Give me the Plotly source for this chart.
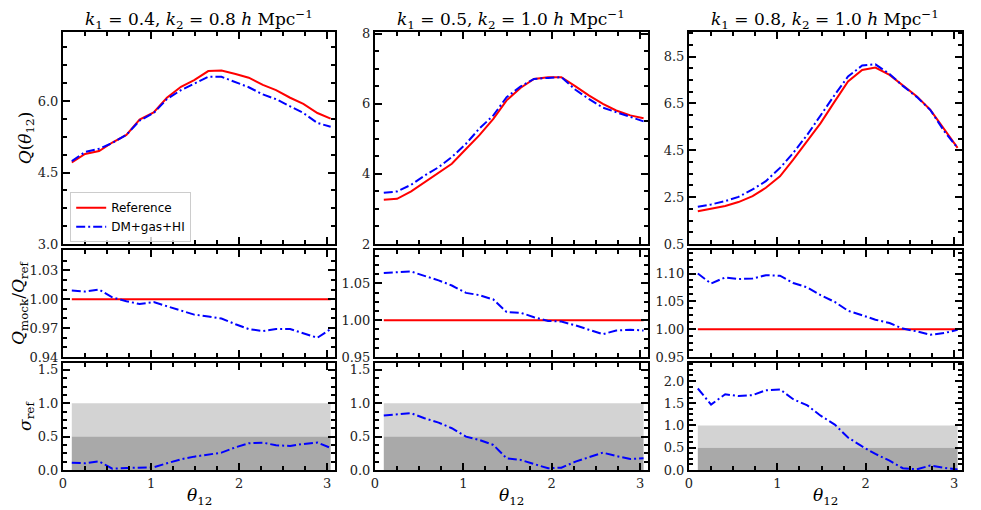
import plotly.graph_objects as go
from plotly.subplots import make_subplots

# angle between the two k vectors
theta = [0.10, 0.25, 0.41, 0.56, 0.72, 0.87, 1.03, 1.18, 1.34, 1.49,
         1.65, 1.80, 1.96, 2.11, 2.27, 2.42, 2.58, 2.73, 2.89, 3.04]

panel_titles = [
    "<i>k</i><sub>1</sub> = 0.4, <i>k</i><sub>2</sub> = 0.8 <i>h</i> Mpc<sup>−1</sup>",
    "<i>k</i><sub>1</sub> = 0.5, <i>k</i><sub>2</sub> = 1.0 <i>h</i> Mpc<sup>−1</sup>",
    "<i>k</i><sub>1</sub> = 0.8, <i>k</i><sub>2</sub> = 1.0 <i>h</i> Mpc<sup>−1</sup>",
]

# Q(theta) reference
q_ref_a = [4.71, 4.89, 4.95, 5.13, 5.29, 5.61, 5.76, 6.07, 6.30, 6.44,
           6.63, 6.64, 6.57, 6.49, 6.34, 6.23, 6.07, 5.94, 5.75, 5.63]
q_ref_b = [3.26, 3.29, 3.50, 3.76, 4.02, 4.29, 4.71, 5.10, 5.57, 6.10,
           6.46, 6.71, 6.76, 6.76, 6.50, 6.24, 6.00, 5.81, 5.67, 5.59]
q_ref_c = [1.90, 2.02, 2.12, 2.29, 2.54, 2.90, 3.39, 4.10, 4.88, 5.66,
           6.59, 7.44, 7.93, 8.03, 7.72, 7.29, 6.80, 6.23, 5.38, 4.60]

# Q(theta) mock DM+gas+HI
q_mock_a = [4.74, 4.93, 5.00, 5.12, 5.29, 5.59, 5.75, 6.04, 6.23, 6.37,
            6.51, 6.51, 6.39, 6.29, 6.14, 6.04, 5.89, 5.75, 5.54, 5.46]
q_mock_b = [3.46, 3.50, 3.69, 3.95, 4.19, 4.48, 4.86, 5.29, 5.67, 6.19,
            6.50, 6.71, 6.74, 6.76, 6.40, 6.14, 5.89, 5.76, 5.64, 5.50]
q_mock_c = [2.09, 2.19, 2.33, 2.51, 2.83, 3.18, 3.75, 4.39, 5.17, 6.02,
            6.87, 7.65, 8.12, 8.17, 7.76, 7.25, 6.77, 6.23, 5.31, 4.60]

# Q_mock / Q_ref
ratio_a = [1.009, 1.008, 1.010, 1.002, 0.998, 0.995, 0.997, 0.993, 0.988, 0.984,
           0.982, 0.980, 0.974, 0.969, 0.967, 0.969, 0.969, 0.965, 0.960, 0.969]
ratio_b = [1.064, 1.065, 1.066, 1.060, 1.054, 1.047, 1.037, 1.034, 1.028, 1.011,
           1.010, 1.004, 0.999, 0.998, 0.993, 0.987, 0.981, 0.986, 0.987, 0.986]
ratio_c = [1.100, 1.082, 1.093, 1.090, 1.091, 1.097, 1.096, 1.083, 1.075, 1.061,
           1.049, 1.033, 1.025, 1.017, 1.011, 1.001, 0.996, 0.990, 0.993, 0.999]

# deviation in units of sigma_ref
sigma_a = [0.11, 0.10, 0.13, 0.02, 0.03, 0.04, 0.04, 0.10, 0.16, 0.20,
           0.23, 0.26, 0.34, 0.40, 0.41, 0.37, 0.36, 0.39, 0.41, 0.33]
sigma_b = [0.815, 0.835, 0.85, 0.775, 0.71, 0.625, 0.50, 0.45, 0.375, 0.175,
           0.15, 0.09, 0.025, 0.035, 0.125, 0.19, 0.26, 0.21, 0.165, 0.175]
sigma_c = [1.83, 1.47, 1.70, 1.66, 1.68, 1.79, 1.81, 1.59, 1.45, 1.22,
           1.02, 0.73, 0.53, 0.36, 0.21, 0.04, 0.015, 0.10, 0.05, 0.01]

q_ref = [q_ref_a, q_ref_b, q_ref_c]
q_mock = [q_mock_a, q_mock_b, q_mock_c]
ratios = [ratio_a, ratio_b, ratio_c]
sigmas = [sigma_a, sigma_b, sigma_c]

# axis settings per panel: (range, dtick, minor dtick)
q_axes = [([3.0, 7.45], 1.5, 0.375), ([2.0, 8.05], 2, 0.5), ([0.5, 9.55], 2, 0.5)]
r_axes = [([0.94, 1.051], 0.03, 0.01), ([0.95, 1.095], 0.05, 0.0125), ([0.95, 1.142], 0.05, 0.0125)]
s_axes = [([0, 1.6], 0.5, 0.125), ([0, 1.6], 0.5, 0.125), ([0, 2.4], 0.5, 0.125)]
tick_fmt = [[".1f", ".0f", ".1f"], [".2f", ".2f", ".2f"], [".1f", ".1f", ".1f"]]

SERIF = "DejaVu Serif"
DASHDOT = "9px,3px,2px,3px"

fig = make_subplots(rows=3, cols=3)

x_dom = [[0.0, 0.3026], [0.347, 0.6507], [0.6963, 1.0]]
y_dom = [[0.516, 1.0], [0.258, 0.502], [0.0, 0.244]]

for c in range(3):
    col = c + 1
    # top row: Q(theta)
    fig.add_trace(go.Scatter(x=theta, y=q_ref[c], mode="lines", name="Reference",
                             line=dict(color="red", width=2), showlegend=(c == 0)),
                  row=1, col=col)
    fig.add_trace(go.Scatter(x=theta, y=q_mock[c], mode="lines", name="DM+gas+HI",
                             line=dict(color="blue", width=2, dash=DASHDOT),
                             showlegend=(c == 0)),
                  row=1, col=col)
    # middle row: ratio
    fig.add_trace(go.Scatter(x=theta, y=[1.0] * len(theta), mode="lines",
                             line=dict(color="red", width=2), showlegend=False),
                  row=2, col=col)
    fig.add_trace(go.Scatter(x=theta, y=ratios[c], mode="lines",
                             line=dict(color="blue", width=2, dash=DASHDOT),
                             showlegend=False),
                  row=2, col=col)
    # bottom row: sigma with 1 and 0.5 sigma bands
    fig.add_shape(type="rect", x0=theta[0], x1=theta[-1], y0=0.5, y1=1.0,
                  fillcolor="#d3d3d3", line_width=0, layer="below", row=3, col=col)
    fig.add_shape(type="rect", x0=theta[0], x1=theta[-1], y0=0.0, y1=0.5,
                  fillcolor="#a9a9a9", line_width=0, layer="below", row=3, col=col)
    fig.add_trace(go.Scatter(x=theta, y=sigmas[c], mode="lines",
                             line=dict(color="blue", width=2, dash=DASHDOT),
                             showlegend=False),
                  row=3, col=col)

    fig.add_annotation(text=panel_titles[c], x=sum(x_dom[c]) / 2, y=1.0, xref="paper",
                       yref="paper", yanchor="bottom", xanchor="center", yshift=-2,
                       showarrow=False, font=dict(family=SERIF, size=17, color="black"))
    # x axis title below the bottom row
    fig.add_annotation(text="<i>θ</i><sub>12</sub>", x=sum(x_dom[c]) / 2, y=0.0,
                       xref="paper", yref="paper", yanchor="top", xanchor="center",
                       yshift=-13, showarrow=False,
                       font=dict(family=SERIF, size=17, color="black"))

    for r, axes in enumerate([q_axes, r_axes, s_axes]):
        rng, dt, mdt = axes[c]
        t0 = 1.0 if r == 1 else rng[0]
        fig.update_xaxes(domain=x_dom[c], row=r + 1, col=col)
        fig.update_yaxes(domain=y_dom[r], range=rng, dtick=dt, tick0=t0,
                         tickformat=tick_fmt[r][c],
                         minor=dict(dtick=mdt, tick0=t0, ticks="inside", ticklen=4,
                                    tickwidth=1.5, tickcolor="black"),
                         row=r + 1, col=col)

fig.update_xaxes(range=[0, 3.09], dtick=1, tick0=0, ticks="inside", ticklen=7,
                 tickwidth=1.5, tickcolor="black", showline=True, linewidth=2,
                 linecolor="black", mirror="allticks", showgrid=False, zeroline=False,
                 minor=dict(dtick=0.25, tick0=0, ticks="inside", ticklen=4,
                            tickwidth=1.5, tickcolor="black"),
                 tickfont=dict(family=SERIF, size=13, color="#222"))
fig.update_xaxes(showticklabels=False, row=1)
fig.update_xaxes(showticklabels=False, row=2)

fig.update_yaxes(ticks="inside", ticklen=7, tickwidth=1.5, tickcolor="black",
                 showline=True, linewidth=2, linecolor="black", mirror="allticks",
                 showgrid=False, zeroline=False, automargin=False,
                 tickfont=dict(family=SERIF, size=13, color="#222"))

ylabels = ["<i>Q</i>(<i>θ</i><sub>12</sub>)",
           "<i>Q</i><sub>mock</sub>/<i>Q</i><sub>ref</sub>",
           "<i>σ</i><sub>ref</sub>"]
for r in range(3):
    fig.update_yaxes(title=dict(text=ylabels[r], standoff=2,
                                font=dict(family=SERIF, size=17, color="black")),
                     row=r + 1, col=1)

# the page body adds an 8px margin, so the figure is sized to fit the window
fig.update_layout(
    width=973, height=502,
    margin=dict(l=55, r=19, t=24, b=40),
    plot_bgcolor="white", paper_bgcolor="white",
    legend=dict(x=0.008, y=0.52, xanchor="left", yanchor="bottom",
                bgcolor="rgba(255,255,255,0.8)", bordercolor="#cccccc", borderwidth=1,
                font=dict(family="DejaVu Sans", size=12, color="black"),
                tracegroupgap=0, itemwidth=30),
)

fig.write_html("out.html")
